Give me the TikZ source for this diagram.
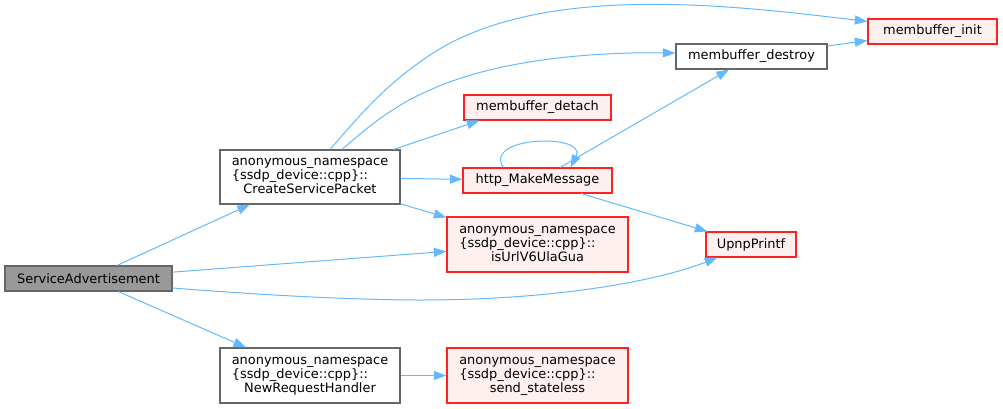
\documentclass[tikz,border=0pt]{standalone}
\usepackage{fontspec}
\setmainfont{DejaVu Sans}
\usetikzlibrary{arrows.meta,calc}

\definecolor{edgeblue}{HTML}{63B8FF}
\definecolor{boxgray}{HTML}{666666}
\definecolor{rootgray}{HTML}{999999}
\definecolor{pinkfill}{HTML}{FFF0F0}
\definecolor{boxred}{HTML}{FF2020}

% three-line label for functions in the anonymous namespace
\newcommand{\nslabel}[1]{\begin{tabular}{@{}l@{}}anonymous\_namespace\\\{ssdp\_device::cpp\}::\\\multicolumn{1}{@{}c@{}}{#1}\end{tabular}}

\tikzset{
  fnbox/.style={draw=boxgray, fill=white, line width=0.8pt, inner sep=0pt,
    font=\fontsize{9.7}{10.5}\selectfont},
  rootbox/.style={fnbox, fill=rootgray},
  extbox/.style={fnbox, draw=boxred, fill=pinkfill},
  boxsize/.style 2 args={minimum width=#1*0.75pt, minimum height=#2*0.75pt},
  call/.style={draw=edgeblue, line width=0.75pt,
    -{Triangle[length=9.5pt, width=6.8pt]}}
}

\begin{document}
\begin{tikzpicture}[x=0.75pt, y=-0.75pt]
  \useasboundingbox (0,0) rectangle (1003,408);

  \node[rootbox, boxsize={167}{25}] (sa) at (88.5,278.5) {ServiceAdvertisement};
  \node[fnbox, boxsize={180}{54}] (csp) at (310,177) {\nslabel{CreateServicePacket}};
  \node[fnbox, boxsize={180}{55}] (nrh) at (310,375.5) {\nslabel{NewRequestHandler}};

  \node[extbox, boxsize={129}{25}] (init) at (932.5,31.5) {membuffer\_init};
  \node[fnbox, boxsize={151}{25}] (destroy) at (751.5,56.5) {membuffer\_destroy};
  \node[extbox, boxsize={147}{25}] (detach) at (537.5,107.5) {membuffer\_detach};
  \node[extbox, boxsize={149}{25}] (http) at (537.5,180.5) {http\_MakeMessage};
  \node[extbox, boxsize={181}{55}] (isurl) at (537.5,244.5) {\nslabel{isUrlV6UlaGua}};
  \node[extbox, boxsize={90}{25}] (upnp) at (751,244.5) {UpnpPrintf};
  \node[extbox, boxsize={181}{55}] (send) at (537.5,375.5) {\nslabel{send\_stateless}};

  % calls from ServiceAdvertisement
  \draw[call] (sa) -- (csp);
  \draw[call] (sa) -- (nrh);
  \draw[call] (sa) -- (isurl);
  \draw[call] ($(sa.east)+(0,9.5)$) .. controls (300,298) and (380,300) .. (420,300)
    .. controls (560,300) and (660,280) .. ($(upnp.south west)+(12,0)$);

  % calls from CreateServicePacket
  \draw[call] ($(csp.north)+(20,0)$) .. controls (360,115) and (385,85) .. (430,55)
    .. controls (540,-18) and (730,5) .. ($(init.north west)+(0,3)$);
  \draw[call] ($(csp.north)+(32,0)$) .. controls (370,125) and (395,105) .. (430,90)
    .. controls (500,58) and (600,52) .. ($(destroy.west)+(0,-3.5)$);
  \draw[call] ($(csp.north east)+(-7,0)$) -- ($(detach.south west)+(16,0)$);
  \draw[call] (csp) -- (http);
  \draw[call] (csp) -- (isurl);

  % calls from http_MakeMessage
  \draw[call] ($(http.north west)+(41,0)$) .. controls (482,136) and (588,133) .. ($(http.north west)+(108,0)$);
  \draw[call] (http) -- (destroy);
  \draw[call] (http) -- (upnp);

  \draw[call] (destroy) -- (init);
  \draw[call] (nrh) -- (send);
\end{tikzpicture}
\end{document}
